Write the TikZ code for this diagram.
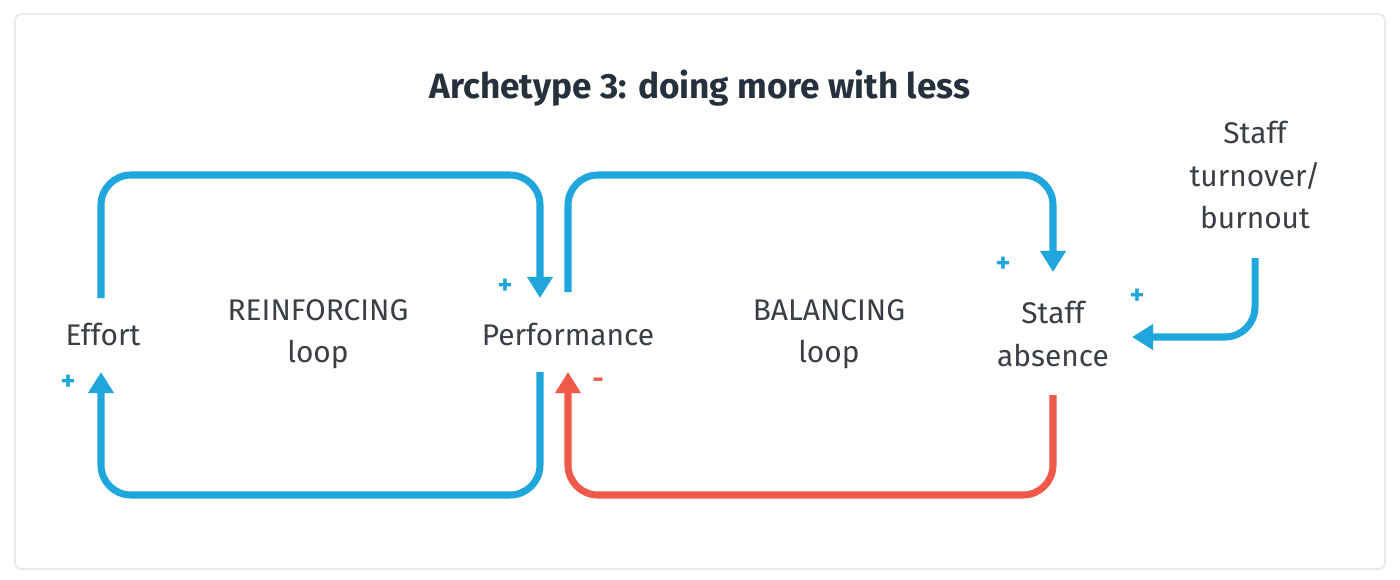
\documentclass[tikz,border=0pt]{standalone}
\usepackage{fontspec}
\setmainfont{Fira Sans}
\usetikzlibrary{arrows.meta}
\definecolor{loopblue}{HTML}{1FA6DD}
\definecolor{loopred}{HTML}{F0594A}
\definecolor{titlenavy}{HTML}{27313D}
\definecolor{txtgray}{HTML}{3A3F45}
\tikzset{
  lbl/.style={font=\fontsize{8.5}{12}\selectfont, text=txtgray, align=center},
  link/.style={line width=2pt, rounded corners=0.3cm, -{Triangle[width=7pt,length=6pt]}},
  sign/.style={font=\fontsize{8}{9}\selectfont\bfseries}
}
\begin{document}
\begin{tikzpicture}[x=1cm,y=1cm]
  \useasboundingbox (0,0) rectangle (14,5.79);
  \draw[black!8, line width=0.6pt, rounded corners=2pt] (0.15,0.1) rectangle (13.85,5.65);

  \node[font=\fontsize{10}{12}\selectfont\bfseries, text=titlenavy] (title) at (7.0,4.91) {Archetype 3: doing more with less};

  \node[lbl] (effort) at (1.03,2.45) {Effort};
  \node[lbl] (reinf) at (3.18,2.45) {REINFORCING\\loop};
  \node[lbl] (perf) at (5.68,2.45) {Performance};
  \node[lbl] (bal) at (8.29,2.45) {BALANCING\\loop};
  \node[lbl] (absence) at (10.53,2.45) {Staff\\absence};
  \node[lbl, align=center] (turnover) at (12.55,4.04) {Staff\\turnover/\\burnout};

  % connector ends
  \coordinate (effT) at (1.01,2.81);
  \coordinate (effB) at (1.01,2.07);
  \coordinate (perfTL) at (5.40,2.81);
  \coordinate (perfBL) at (5.40,2.07);
  \coordinate (perfTR) at (5.68,2.87);
  \coordinate (perfBR) at (5.68,2.07);
  \coordinate (absT) at (10.53,3.07);
  \coordinate (absB) at (10.53,1.84);
  \coordinate (absR) at (11.32,2.42);
  \coordinate (turnB) at (12.55,3.21);

  \draw[link, loopblue] (effT) -- (1.01,4.04) -- (5.40,4.04) -- (perfTL);
  \draw[link, loopblue] (perfBL) -- (5.40,0.84) -- (1.01,0.84) -- (effB);
  \draw[link, loopblue] (perfTR) -- (5.68,4.04) -- (10.53,4.04) -- (absT);
  \draw[link, loopred] (absB) -- (10.53,0.84) -- (5.68,0.84) -- (perfBR);
  \draw[link, loopblue] (turnB) -- (12.55,2.42) -- (absR);

  \node[sign, loopblue] (s1) at (5.05,2.92) {+};
  \node[sign, loopblue] (s2) at (0.68,1.96) {+};
  \node[sign, loopblue] (s3) at (10.03,3.14) {+};
  \node[sign, loopblue] (s4) at (11.37,2.82) {+};
  \node[sign, loopred] (s5) at (5.98,1.96) {-};
\end{tikzpicture}
\end{document}
